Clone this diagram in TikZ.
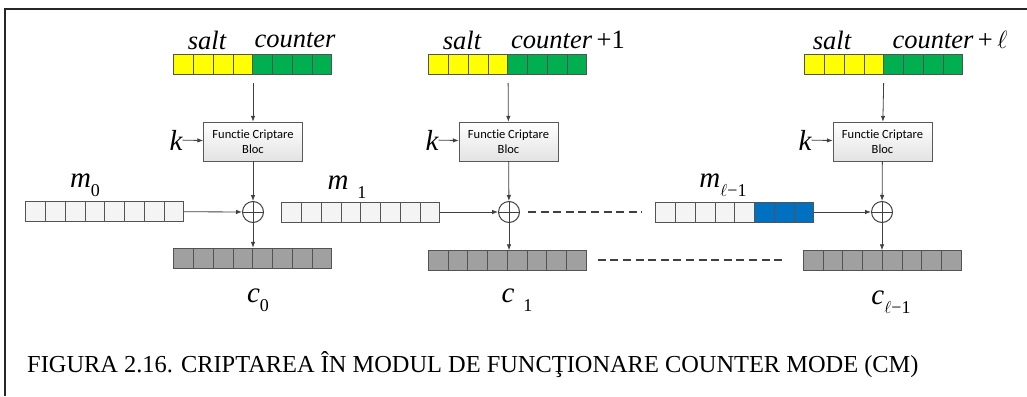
\documentclass[tikz,border=0pt]{standalone}
\usepackage{fontspec}
\setmainfont{Liberation Serif}
\newfontfamily\boxfont[Ligatures=NoCommon]{Carlito}
\usetikzlibrary{arrows.meta,positioning,calc}

\definecolor{saltyellow}{HTML}{FFFF00}
\definecolor{ctrgreen}{HTML}{00B050}
\definecolor{msgwhite}{HTML}{F4F4F4}
\definecolor{ctxgray}{HTML}{A0A0A0}
\definecolor{msgblue}{HTML}{0070C0}
\definecolor{linegray}{HTML}{404040}

\tikzset{
  regframe/.style={minimum width=158pt, minimum height=20pt, inner sep=0pt},
  cell/.style={draw=linegray!90, line width=0.8pt},
  cipherbox/.style={draw=gray!70!black, top color=white, bottom color=gray!22,
    minimum width=99pt, minimum height=39pt, inner sep=0pt, align=center,
    font=\boxfont\fontsize{12.5}{15.5}\selectfont},
  xorop/.style={circle, draw=linegray, line width=1pt, minimum size=21pt, inner sep=0pt,
    path picture={\draw[linegray, line width=1pt]
      (path picture bounding box.north) -- (path picture bounding box.south)
      (path picture bounding box.west) -- (path picture bounding box.east);}},
  flow/.style={draw=linegray, line width=0.8pt, -{Latex[length=6pt,width=4.5pt]}},
  dashline/.style={draw=linegray, line width=1.8pt, dash pattern=on 8pt off 4.6pt},
  biglbl/.style={font=\fontsize{29}{30}\selectfont\itshape, inner sep=0pt},
  toplbl/.style={font=\fontsize{26.5}{28}\selectfont\itshape, inner sep=0pt},
}

% bar of 8 cells: name, centre, colours
\newcommand{\regbar}[3]{%
  \node[regframe] (#1) at (#2) {};
  \foreach \col [count=\i from 0] in {#3}
    \draw[cell, fill=\col] ($(#1.west)+(\i*19.75,-10)$) rectangle ++(19.75,20);
}
\newcommand{\sbs}[1]{\raisebox{-0.3em}{\fontsize{18}{18}\selectfont\upshape #1}}

\begin{document}
\begin{tikzpicture}[x=1pt, y=-1pt]
  \useasboundingbox (0,0) rectangle (1027,396);

  % frame
  \draw[line width=2pt, black!85] (5,396) -- (5,9) -- (1027,9);

  % salt || counter
  \regbar{s0}{253,64}{saltyellow,saltyellow,saltyellow,saltyellow,ctrgreen,ctrgreen,ctrgreen,ctrgreen}
  \regbar{s1}{508,64}{saltyellow,saltyellow,saltyellow,saltyellow,ctrgreen,ctrgreen,ctrgreen,ctrgreen}
  \regbar{s2}{884,64}{saltyellow,saltyellow,saltyellow,saltyellow,ctrgreen,ctrgreen,ctrgreen,ctrgreen}
  \node[toplbl] (salt0) at (207,40) {salt};
  \node[toplbl] (ctr0) at (295,40) {counter};
  \node[toplbl] (salt1) at (462,40) {salt};
  \node[toplbl] (ctr1) at (568,40) {counter\,\upshape+1};
  \node[toplbl] (salt2) at (832,40) {salt};
  \node[toplbl] (ctr2) at (950,40) {counter\,\upshape+\,$\ell$};

  % block cipher
  \node[cipherbox] (f0) at (253,141.5) {Functie Criptare\\Bloc};
  \node[cipherbox] (f1) at (508.5,141.5) {Functie Criptare\\Bloc};
  \node[cipherbox] (f2) at (882.5,141.5) {Functie Criptare\\Bloc};
  \node[biglbl] (k0) at (176,140) {k};
  \node[biglbl] (k1) at (432,140) {k};
  \node[biglbl] (k2) at (805,140) {k};

  % xor
  \node[xorop] (x0) at (253,212) {};
  \node[xorop] (x1) at (509,212) {};
  \node[xorop] (x2) at (882,212) {};

  % plaintext blocks
  \regbar{m0}{105,211.5}{msgwhite,msgwhite,msgwhite,msgwhite,msgwhite,msgwhite,msgwhite,msgwhite}
  \regbar{m1}{361,212}{msgwhite,msgwhite,msgwhite,msgwhite,msgwhite,msgwhite,msgwhite,msgwhite}
  \regbar{m2}{735,212}{msgwhite,msgwhite,msgwhite,msgwhite,msgwhite,msgblue,msgblue,msgblue}
  \node[biglbl] (lm0) at (85,185) {m\sbs{0}};
  \node[biglbl] (lm1) at (347,187) {m\hspace{9pt}\sbs{1}};
  \node[biglbl] (lm2) at (723,185) {m\sbs{$\ell$\textminus1}};

  % ciphertext blocks
  \regbar{c0}{253,258}{ctxgray,ctxgray,ctxgray,ctxgray,ctxgray,ctxgray,ctxgray,ctxgray}
  \regbar{c1}{507.5,260.5}{ctxgray,ctxgray,ctxgray,ctxgray,ctxgray,ctxgray,ctxgray,ctxgray}
  \regbar{c2}{882.5,260.5}{ctxgray,ctxgray,ctxgray,ctxgray,ctxgray,ctxgray,ctxgray,ctxgray}
  \node[biglbl] (lc0) at (258,300) {c\sbs{0}};
  \node[biglbl] (lc1) at (517,300) {c\hspace{9pt}\sbs{1}};
  \node[biglbl] (lc2) at (891,302) {c\sbs{$\ell$\textminus1}};

  % connections
  \foreach \j in {0,1,2} {
    \draw[flow, shorten <=9pt] (s\j) -- (f\j);
    \draw[flow] (k\j) -- (f\j);
    \draw[flow] (f\j) -- (x\j);
    \draw[flow] (x\j) -- (c\j.north -| x\j);
    \draw[flow] (m\j) -- (x\j);
  }
  \draw[dashline] ($(x1.east)+(8,0)$) -- ($(m2.west)+(-14,0)$);
  \draw[dashline] ($(c1.east)+(11,-0.5)$) -- ($(c2.west)+(-18,-0.5)$);

  % caption
  \node[anchor=west, inner sep=0pt, font=\fontsize{24.4}{26}\selectfont] (cap) at (27,365)
    {FIGURA 2.16. CRIPTAREA ÎN MODUL DE FUNCŢIONARE COUNTER MODE (CM)};
\end{tikzpicture}
\end{document}
